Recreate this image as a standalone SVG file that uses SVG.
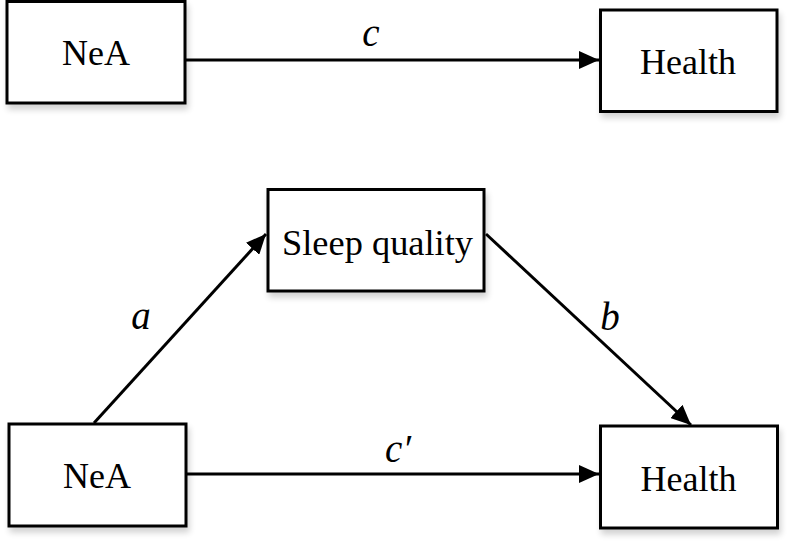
<svg xmlns="http://www.w3.org/2000/svg" width="787" height="550" viewBox="0 0 787 550">
<style>
.box{fill:#fff;stroke:#000;stroke-width:3}
.t{font-family:"Liberation Serif","Times New Roman",serif;font-size:36px;fill:#000;text-anchor:middle}
.i{font-style:italic;font-size:39px}
.ln{stroke:#000;stroke-width:3;fill:none}
</style>
<defs>
<marker id="ah" viewBox="0 0 20 18" refX="20" refY="9" markerWidth="20" markerHeight="18" markerUnits="userSpaceOnUse" orient="auto">
<path d="M0,0 L20,9 L0,18 Z" fill="#000"/>
</marker>
<filter id="sh" x="-10%" y="-10%" width="130%" height="130%">
<feGaussianBlur in="SourceAlpha" stdDeviation="3"/>
<feOffset dx="2" dy="5" result="b"/>
<feComponentTransfer><feFuncA type="linear" slope="0.18"/></feComponentTransfer>
<feMerge><feMergeNode/><feMergeNode in="SourceGraphic"/></feMerge>
</filter>
</defs>
<g id="connectors">
<line class="ln" x1="185" y1="60" x2="599" y2="60" marker-end="url(#ah)"/>
<line class="ln" x1="94" y1="423" x2="266" y2="234" marker-end="url(#ah)"/>
<line class="ln" x1="486" y1="234" x2="691" y2="425" marker-end="url(#ah)"/>
<line class="ln" x1="187" y1="474" x2="599" y2="474" marker-end="url(#ah)"/>
<text class="t i" x="371" y="46">c</text>
<text class="t i" x="141" y="329">a</text>
<text class="t i" x="610" y="330">b</text>
<text class="t i" x="398" y="462">c′</text>
</g>
<g id="neA_top">
<rect class="box" x="7" y="1.5" width="178" height="101.5" filter="url(#sh)"/>
<text class="t" x="96" y="65">NeA</text>
</g>
<g id="health_top">
<rect class="box" x="600.5" y="10" width="176.5" height="101.5" filter="url(#sh)"/>
<text class="t" x="688" y="74" font-size="37">Health</text>
</g>
<g id="sleep">
<rect class="box" x="268" y="189.5" width="216" height="101.5" filter="url(#sh)"/>
<text class="t" x="377.5" y="255" font-size="40" textLength="191" lengthAdjust="spacingAndGlyphs">Sleep quality</text>
</g>
<g id="neA_bottom">
<rect class="box" x="9" y="424" width="177" height="102" filter="url(#sh)"/>
<text class="t" x="97" y="488">NeA</text>
</g>
<g id="health_bottom">
<rect class="box" x="600.5" y="426" width="177" height="102" filter="url(#sh)"/>
<text class="t" x="688.5" y="491" font-size="37">Health</text>
</g>
</svg>
